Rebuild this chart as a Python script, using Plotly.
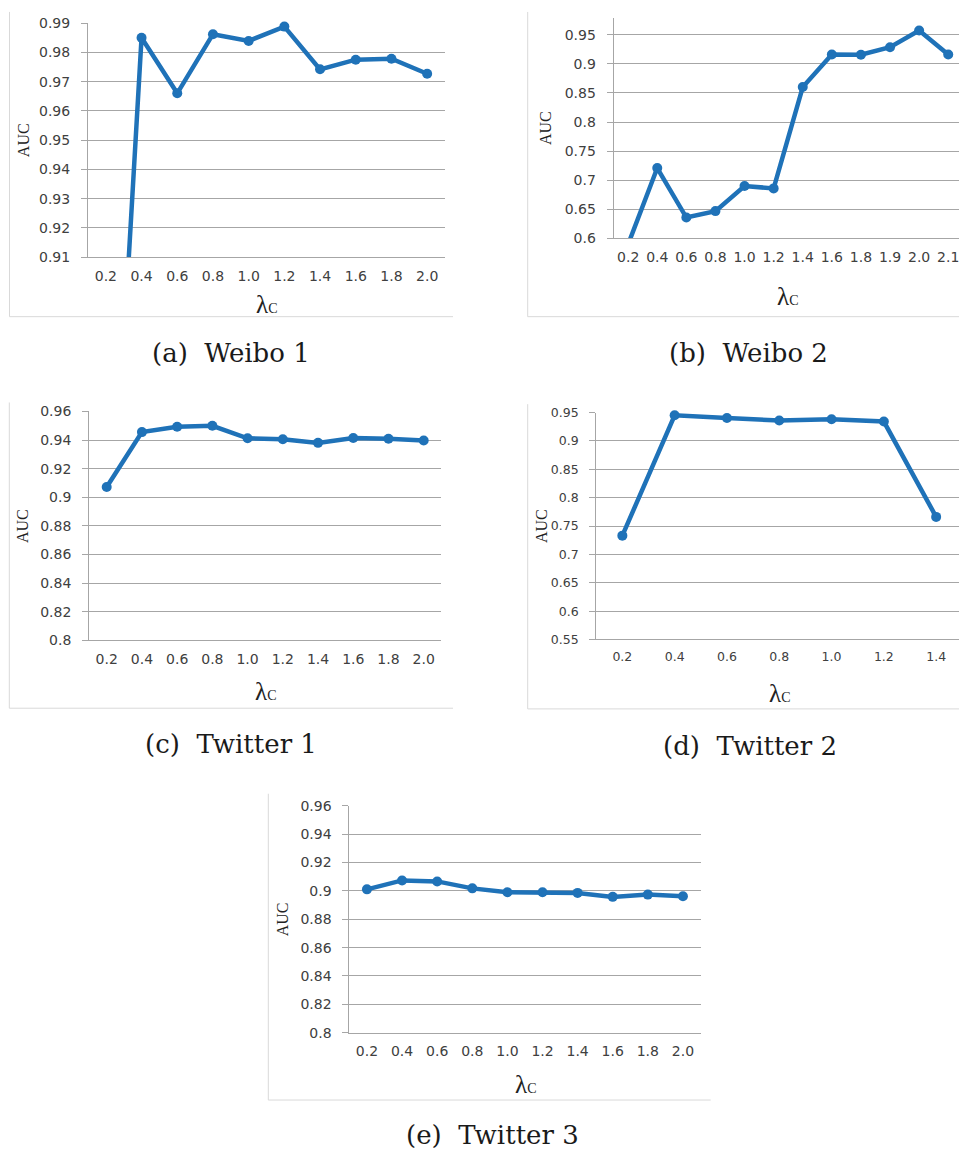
import plotly.graph_objects as go

# ---- data -------------------------------------------------------------
lam_a = ["0.2", "0.4", "0.6", "0.8", "1.0", "1.2", "1.4", "1.6", "1.8", "2.0"]
auc_a = [0.775, 0.985, 0.966, 0.9862, 0.9839, 0.9888, 0.9742, 0.9775, 0.9778, 0.9727]

lam_b = ["0.2", "0.4", "0.6", "0.8", "1.0", "1.2", "1.4", "1.6", "1.8", "1.9", "2.0", "2.1"]
auc_b = [0.59, 0.721, 0.636, 0.647, 0.690, 0.686, 0.860, 0.916, 0.9156, 0.9285, 0.957, 0.916]

lam_c = ["0.2", "0.4", "0.6", "0.8", "1.0", "1.2", "1.4", "1.6", "1.8", "2.0"]
auc_c = [0.9072, 0.9455, 0.9492, 0.9499, 0.9412, 0.9405, 0.938, 0.9414, 0.9409, 0.9396]

lam_d = ["0.2", "0.4", "0.6", "0.8", "1.0", "1.2", "1.4"]
auc_d = [0.7331, 0.9453, 0.9406, 0.936, 0.9383, 0.9343, 0.7662]

lam_e = ["0.2", "0.4", "0.6", "0.8", "1.0", "1.2", "1.4", "1.6", "1.8", "2.0"]
auc_e = [0.9011, 0.9074, 0.9067, 0.9018, 0.899, 0.899, 0.8986, 0.8958, 0.8974, 0.8962]

captions = ["(a)  Weibo 1", "(b)  Weibo 2", "(c)  Twitter 1", "(d)  Twitter 2", "(e)  Twitter 3"]

# y ticks per panel
yt_a = [0.91, 0.92, 0.93, 0.94, 0.95, 0.96, 0.97, 0.98, 0.99]
yt_b = [0.6, 0.65, 0.7, 0.75, 0.8, 0.85, 0.9, 0.95]
yt_c = [0.8, 0.82, 0.84, 0.86, 0.88, 0.9, 0.92, 0.94, 0.96]
yt_d = [0.55, 0.6, 0.65, 0.7, 0.75, 0.8, 0.85, 0.9, 0.95]
yt_e = [0.8, 0.82, 0.84, 0.86, 0.88, 0.9, 0.92, 0.94, 0.96]

# ---- layout geometry (pixels) ------------------------------------------
W, H = 959, 1161
BLUE = "#1f72b8"
GRID = "#a6a6a6"
TXT = "#404040"


def px_x(v):
    return v / W


def px_y(v):
    return 1 - v / H


panels = [
    dict(x=lam_a, y=auc_a, yt=yt_a, xp=(88, 445), yp=(15.3, 252.7),
         yr=(0.91, 0.99), xr=(-0.5, 9.5), fs=14),
    dict(x=lam_b, y=auc_b, yt=yt_b, xp=(613.6, 959), yp=(10.5, 233.7),
         yr=(0.6, 0.978), xr=(-0.5, 11.37), fs=14),
    dict(x=lam_c, y=auc_c, yt=yt_c, xp=(89.1, 441.3), yp=(409, 641.3),
         yr=(0.8, 0.96), xr=(-0.5, 9.5), fs=14),
    dict(x=lam_d, y=auc_d, yt=yt_d, xp=(596.2, 959), yp=(410.3, 640.3),
         yr=(0.55, 0.95), xr=(-0.5, 6.437), fs=12.5),
    dict(x=lam_e, y=auc_e, yt=yt_e, xp=(349.4, 700.5), yp=(809, 1039),
         yr=(0.8, 0.96), xr=(-0.5, 9.5), fs=14),
]


def label(v):
    return ("%.2f" % v).rstrip("0").rstrip(".")


fig = go.Figure()
layout = dict(width=W, height=H, margin=dict(l=0, r=0, t=0, b=0),
              paper_bgcolor="white", plot_bgcolor="white", showlegend=False)

annotations = []
shapes = []

for i, p in enumerate(panels, start=1):
    xa = "x" if i == 1 else f"x{i}"
    ya = "y" if i == 1 else f"y{i}"
    lo, hi = p["yr"]
    # line (clipped to the plot area)
    fig.add_trace(go.Scatter(
        x=p["x"], y=p["y"], xaxis=xa, yaxis=ya, mode="lines",
        line=dict(color=BLUE, width=4.5), hoverinfo="skip",
    ))
    # markers for the points inside the axis range, drawn unclipped
    inside = [(xv, yv) for xv, yv in zip(p["x"], p["y"]) if lo <= yv <= hi]
    fig.add_trace(go.Scatter(
        x=[q[0] for q in inside], y=[q[1] for q in inside], xaxis=xa, yaxis=ya,
        mode="markers", marker=dict(color=BLUE, size=10, symbol="circle"),
        cliponaxis=False, hoverinfo="skip",
    ))
    xkey = "xaxis" if i == 1 else f"xaxis{i}"
    ykey = "yaxis" if i == 1 else f"yaxis{i}"
    layout[xkey] = dict(
        domain=[px_x(p["xp"][0]), px_x(p["xp"][1])], anchor=ya,
        type="category", categoryorder="array", categoryarray=p["x"],
        range=list(p["xr"]), showgrid=False, zeroline=False,
        showline=True, linecolor=GRID, linewidth=1,
        ticks="", ticklabelstandoff=6,
        tickfont=dict(family="DejaVu Sans", size=p["fs"], color=TXT),
    )
    layout[ykey] = dict(
        domain=[px_y(p["yp"][1]), px_y(p["yp"][0])], anchor=xa,
        range=list(p["yr"]), tickvals=p["yt"], ticktext=[label(v) for v in p["yt"]],
        showgrid=True, gridcolor=GRID, gridwidth=1, zeroline=False,
        showline=True, linecolor=GRID, linewidth=1,
        ticks="outside", ticklen=6, tickcolor=GRID, tickwidth=1,
        ticklabelstandoff=8,
        tickfont=dict(family="DejaVu Sans", size=p["fs"], color=TXT),
    )

# y axis titles
auc_pos = [(23, 134), (545.7, 122), (22, 525.3), (541, 525.3), (282, 924)]
for (cx, cy) in auc_pos:
    annotations.append(dict(
        text="AUC", x=px_x(cx), y=px_y(cy), xref="paper", yref="paper",
        xanchor="center", yanchor="middle", showarrow=False, textangle=-90,
        font=dict(family="Liberation Serif", size=16, color="#222222"),
    ))

# x axis titles (λ with small C)
lam_pos = [(266, 301), (787, 293), (265, 693), (779, 695), (525, 1092)]
for (cx, cy) in lam_pos:
    annotations.append(dict(
        text="λ<span style='font-size:14px'>C</span>", x=px_x(cx), y=px_y(cy),
        xref="paper", yref="paper", xanchor="center", yanchor="middle",
        showarrow=False,
        font=dict(family="Liberation Serif", size=25, color="#222222"),
    ))

# subfigure captions
cap_pos = [(231, 350), (748, 350), (231, 746), (750, 748), (492, 1143)]
for txt, (cx, cy) in zip(captions, cap_pos):
    annotations.append(dict(
        text=txt, x=px_x(cx), y=px_y(cy), xref="paper", yref="paper",
        xanchor="center", yanchor="middle", showarrow=False,
        font=dict(family="DejaVu Serif", size=26, color="#1a1a1a"),
    ))

# light frame (left and bottom edge) around each chart area
frames = [(9.5, 4, 313, 453), (527.7, 4, 313, 959), (9.3, 400, 710, 453),
          (527.7, 401.7, 710.7, 959), (268.3, 796.7, 1107.3, 710.7)]
for (fx, ftop, fbot, fright) in frames:
    shapes.append(dict(type="line", xref="paper", yref="paper",
                       x0=px_x(fx), x1=px_x(fx), y0=px_y(ftop), y1=px_y(fbot),
                       line=dict(color="#d9d9d9", width=1)))
    shapes.append(dict(type="line", xref="paper", yref="paper",
                       x0=px_x(fx), x1=px_x(fright), y0=px_y(fbot), y1=px_y(fbot),
                       line=dict(color="#d9d9d9", width=1)))

layout["annotations"] = annotations
layout["shapes"] = shapes
fig.update_layout(**layout)
fig.write_html("out.html")
